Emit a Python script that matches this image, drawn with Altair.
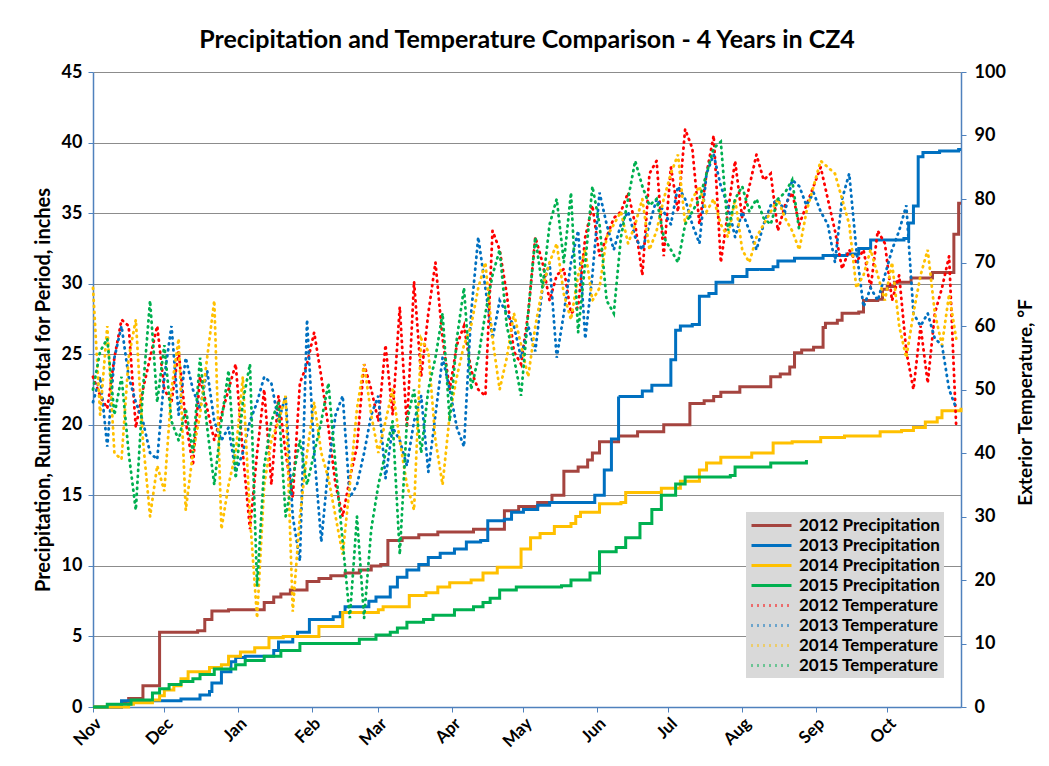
import altair as alt
import pandas as pd

# ---------------- data ----------------
months = ["Nov", "Dec", "Jan", "Feb", "Mar", "Apr", "May", "Jun", "Jul", "Aug", "Sep", "Oct"]
month_start_days = [0, 30, 61, 92, 120, 151, 181, 212, 242, 273, 304, 334]

series_names = [
    "2012 Precipitation", "2013 Precipitation", "2014 Precipitation", "2015 Precipitation",
    "2012 Temperature", "2013 Temperature", "2014 Temperature", "2015 Temperature",
]
series_colors = ["#a5443f", "#0070c0", "#ffc000", "#00b050",
                 "#ff0000", "#0070c0", "#ffc000", "#00b050"]

# cumulative precipitation (inches): day of period (0 = Nov 1) and running total
p2012_days = [0, 12, 15, 21, 28, 44, 47, 50, 57, 72, 76, 79, 83, 90, 95, 100, 106, 112, 117, 121, 124,
              130, 137, 145, 160, 173, 179, 187, 193, 198, 204, 208, 210, 213, 221, 229, 240, 251, 257, 261,
              264, 272, 285, 289, 293, 295, 298, 303, 307, 308, 313, 315, 322, 324, 330, 332, 334, 337, 344,
              353, 362, 364, 365]
p2012_vals = [0, 0.3, 0.6, 1.5, 5.3, 5.4, 6.2, 6.8, 6.9, 7.4, 7.8, 8.0, 8.3, 8.9, 9.1, 9.3, 9.5, 9.7, 10.0,
              10.1, 11.8, 12.0, 12.2, 12.4, 12.6, 13.9, 14.2, 14.5, 15.0, 16.7, 17.0, 17.5, 18.0, 18.8, 19.2,
              19.5, 20.0, 21.5, 21.7, 22.0, 22.3, 22.7, 23.4, 23.6, 24.1, 25.1, 25.3, 25.5, 26.9, 27.2, 27.4,
              27.9, 28.0, 28.8, 28.9, 29.6, 29.8, 30.1, 30.4, 30.8, 33.5, 35.7, 35.7]

p2013_days = [0, 12, 37, 45, 49, 50, 54, 58, 60, 64, 76, 78, 84, 86, 91, 101, 104, 106, 116, 119, 125, 128,
              132, 137, 141, 146, 152, 157, 163, 166, 173, 176, 181, 187, 192, 211, 215, 218, 221, 231, 235,
              243, 245, 247, 252, 255, 259, 262, 269, 275, 286, 288, 295, 307, 317, 322, 327, 341, 343, 345,
              347, 349, 356, 364, 365]
p2013_vals = [0, 0.45, 0.57, 0.85, 1.1, 1.7, 2.5, 3.2, 3.5, 3.6, 4.0, 4.6, 5.0, 5.3, 6.2, 6.4, 6.7, 7.1, 7.5,
              7.8, 8.5, 9.2, 9.7, 10.1, 10.6, 10.9, 11.2, 11.7, 11.8, 13.2, 13.3, 13.8, 14.0, 14.3, 14.5, 15.0,
              16.8, 19.0, 22.0, 22.4, 22.8, 24.6, 26.7, 27.0, 27.1, 29.1, 29.3, 30.1, 30.5, 31.0, 31.2, 31.6,
              31.8, 32.0, 32.1, 32.5, 33.1, 33.2, 34.3, 35.5, 39.0, 39.3, 39.4, 39.5, 39.5]

p2014_days = [0, 15, 17, 25, 28, 30, 34, 37, 40, 49, 54, 57, 62, 68, 74, 80, 95, 105, 120, 122, 133, 140, 145,
              150, 159, 164, 170, 180, 184, 188, 194, 201, 203, 205, 213, 222, 224, 239, 247, 255, 258, 264,
              277, 286, 294, 306, 316, 331, 340, 345, 350, 355, 357, 365]
p2014_vals = [0, 0.2, 0.3, 0.5, 0.8, 1.2, 1.5, 2.0, 2.5, 2.8, 3.0, 3.6, 3.9, 4.2, 4.9, 5.0, 5.7, 6.7, 6.9, 7.1,
              7.9, 8.1, 8.5, 8.8, 9.0, 9.5, 9.9, 11.2, 12.0, 12.3, 12.8, 13.0, 13.5, 13.8, 14.4, 14.5, 15.2,
              15.5, 16.0, 16.8, 17.3, 17.7, 18.0, 18.7, 18.8, 19.1, 19.2, 19.5, 19.6, 19.8, 20.2, 20.5, 21.0, 21.2]

p2015_days = [0, 6, 16, 25, 28, 32, 37, 42, 45, 51, 60, 64, 72, 79, 87, 112, 119, 125, 128, 132, 139, 143, 152,
              160, 164, 167, 171, 178, 197, 201, 209, 213, 220, 224, 230, 235, 239, 245, 249, 268, 270, 285, 300]
p2015_vals = [0, 0.2, 0.5, 1.0, 1.3, 1.6, 1.8, 2.0, 2.3, 2.7, 3.0, 3.3, 3.6, 4.0, 4.5, 4.8, 5.1, 5.3, 5.6, 6.0,
              6.2, 6.5, 6.9, 7.1, 7.4, 7.7, 8.3, 8.5, 8.6, 9.0, 9.5, 11.0, 11.3, 12.0, 13.0, 14.0, 15.0, 15.8,
              16.3, 16.4, 17.0, 17.3, 17.5]

# exterior temperature (F), read every 3 days from Nov 1
temp_step_days = 3
t2012 = [52, 49, 47, 55, 61, 60, 44, 50, 55, 60,
         50, 48, 56, 45, 38, 52, 47, 42, 46, 50,
         54, 40, 28, 40, 50, 35, 49, 40, 33, 51,
         54, 59, 52, 44, 35, 30, 36, 41, 54, 50,
         45, 57, 46, 63, 44, 67, 52, 62, 70, 58,
         50, 57, 60, 53, 50, 49, 75, 72, 65, 56,
         54, 62, 74, 70, 64, 68, 69, 62, 63, 74,
         79, 71, 74, 77, 78, 81, 76, 68, 84, 86,
         71, 85, 78, 91, 88, 76, 84, 90, 70, 78,
         86, 77, 82, 87, 83, 84, 75, 79, 81, 76,
         79, 82, 85, 80, 75, 69, 72, 70, 72, 66,
         75, 73, 64, 68, 56, 50, 60, 51, 62, 66,
         71, 44]
t2013 = [48, 52, 41, 55, 60, 52, 48, 45, 40, 39,
         52, 60, 46, 55, 50, 47, 53, 45, 42, 44,
         37, 40, 45, 48, 52, 51, 45, 49, 30, 23,
         61, 40, 26, 38, 46, 49, 33, 35, 40, 46,
         49, 36, 44, 42, 38, 45, 49, 37, 46, 55,
         50, 44, 41, 62, 74, 66, 58, 64, 62, 60,
         55, 60, 56, 66, 70, 55, 62, 70, 75, 58,
         68, 81, 76, 72, 76, 78, 74, 72, 76, 80,
         78, 76, 82, 80, 76, 73, 84, 87, 82, 79,
         74, 78, 75, 72, 76, 79, 80, 78, 83, 82,
         79, 81, 78, 76, 70, 80, 84, 72, 63, 66,
         64, 68, 72, 75, 79, 62, 60, 62, 58, 57,
         50, 47]
t2014 = [66, 46, 60, 40, 39, 55, 61, 42, 30, 38,
         34, 50, 58, 31, 40, 46, 55, 64, 28, 35,
         40, 52, 30, 14, 35, 42, 45, 49, 15, 30,
         40, 48, 40, 36, 30, 24, 35, 47, 54, 46,
         40, 45, 50, 42, 35, 31, 58, 56, 42, 35,
         46, 52, 57, 60, 66, 70, 58, 50, 55, 62,
         57, 52, 60, 66, 70, 73, 65, 61, 68, 72,
         64, 66, 74, 76, 78, 73, 76, 80, 72, 75,
         80, 84, 87, 76, 80, 82, 78, 80, 76, 74,
         80, 72, 70, 74, 76, 78, 80, 77, 75, 72,
         78, 82, 86, 85, 84, 80, 76, 66, 68, 72,
         68, 64, 70, 60, 55, 62, 68, 72, 62, 57,
         65, 58]
t2015 = [50, 56, 58, 46, 52, 40, 31, 50, 64, 48,
         57, 45, 42, 47, 40, 55, 44, 35, 45, 53,
         36, 48, 54, 19, 38, 45, 48, 30, 36, 42,
         35, 40, 45, 51, 38, 26, 14, 30, 14, 28,
         35, 40, 45, 24, 45, 50, 40, 50, 55, 62,
         45, 58, 66, 50, 55, 62, 68, 72, 60, 55,
         49, 62, 74, 66, 76, 80, 70, 81, 59, 70,
         82, 76, 64, 62, 74, 80, 86, 82, 79, 80,
         74, 72, 70, 76, 78, 80, 84, 88, 89, 75,
         80, 82, 78, 80, 77, 76, 80, 81, 83, 75]

# ---------------- tables ----------------
precip_rows = []
for name, days, vals in [("2012 Precipitation", p2012_days, p2012_vals),
                         ("2013 Precipitation", p2013_days, p2013_vals),
                         ("2014 Precipitation", p2014_days, p2014_vals),
                         ("2015 Precipitation", p2015_days, p2015_vals)]:
    for d, v in zip(days, vals):
        precip_rows.append({"day": d, "value": v, "series": name})
precip_df = pd.DataFrame(precip_rows)

temp_rows = []
for name, vals in [("2012 Temperature", t2012), ("2013 Temperature", t2013),
                   ("2014 Temperature", t2014), ("2015 Temperature", t2015)]:
    for i, v in enumerate(vals):
        temp_rows.append({"day": i * temp_step_days, "temp": v, "series": name})
temp_df = pd.DataFrame(temp_rows)

# ---------------- styling ----------------
FONT = "Lato"
AXIS_BLUE = "#4f81bd"
series_dash = [[1, 0]] * 4 + [[1.0, 5.0]] * 4

label_expr = "{}[indexof({}, datum.value)]".format(
    "[" + ",".join("'%s'" % m for m in months) + "]",
    "[" + ",".join(str(d) for d in month_start_days) + "]",
)

legend = alt.Legend(
    title=None, orient="none", legendX=653, legendY=440,
    fillColor="#d9d9d9", padding=4, symbolType="M-1,0H4", symbolSize=256,
    symbolStrokeWidth=3, labelFont=FONT, labelFontSize=17, labelFontWeight="bold",
    labelColor="#000000", rowPadding=2, labelOffset=30, labelLimit=300,
)
color = alt.Color("series:N", scale=alt.Scale(domain=series_names, range=series_colors), legend=legend)
dash = alt.StrokeDash("series:N", scale=alt.Scale(domain=series_names, range=series_dash), legend=legend)

x_enc = alt.X(
    "day:Q",
    scale=alt.Scale(domain=[0, 365], nice=False, zero=False),
    axis=alt.Axis(
        values=month_start_days, labelExpr=label_expr, labelAngle=-45, title=None, grid=False,
        domainColor=AXIS_BLUE, tickColor=AXIS_BLUE, tickSize=5, domainWidth=1.5,
        labelFont=FONT, labelFontSize=17, labelFontWeight="bold", labelColor="#000000",
        labelPadding=3,
    ),
)

precip = alt.Chart(precip_df).mark_line(interpolate="step-after", strokeWidth=3).encode(
    x=x_enc,
    y=alt.Y(
        "value:Q",
        scale=alt.Scale(domain=[0, 45], nice=False),
        axis=alt.Axis(
            values=list(range(0, 50, 5)), title="Precipitation, Running Total for Period, inches",
            grid=True, gridColor="#8c8c8c", gridWidth=1.2,
            domainColor=AXIS_BLUE, tickColor=AXIS_BLUE, tickSize=5, domainWidth=1.5,
            labelFont=FONT, labelFontSize=18, labelFontWeight="bold", labelColor="#000000",
            labelPadding=6, titleFont=FONT, titleFontSize=20, titleFontWeight="bold",
            titleColor="#000000", titlePadding=8,
        ),
    ),
    color=color,
    strokeDash=dash,
    detail="series:N",
)

temps = alt.Chart(temp_df).mark_line(strokeWidth=2.8, strokeCap="round").encode(
    x=x_enc,
    y=alt.Y(
        "temp:Q",
        scale=alt.Scale(domain=[0, 100], nice=False),
        axis=alt.Axis(
            orient="right", values=list(range(0, 110, 10)), title="Exterior Temperature, °F",
            grid=False, domainColor=AXIS_BLUE, tickColor=AXIS_BLUE, tickSize=5, domainWidth=1.5,
            labelFont=FONT, labelFontSize=18, labelFontWeight="bold", labelColor="#000000",
            labelPadding=8, titleFont=FONT, titleFontSize=19, titleFontWeight="bold",
            titleColor="#000000", titleAngle=270, titlePadding=30, titleY=330,
        ),
    ),
    color=color,
    strokeDash=dash,
    detail="series:N",
)

chart = alt.layer(precip, temps).resolve_scale(y="independent").properties(
    width=868,
    height=635,
    padding={"left": 85, "top": 64, "right": 80, "bottom": 48},
    autosize=alt.AutoSizeParams(type="none"),
    title=alt.TitleParams(
        "Precipitation and Temperature Comparison - 4 Years in CZ4",
        font=FONT, fontSize=25, fontWeight="bold", color="#000000", anchor="middle", offset=10,
    ),
).configure_view(stroke=None)

chart.save("out.html", embed_options={"renderer": "svg", "actions": False})
